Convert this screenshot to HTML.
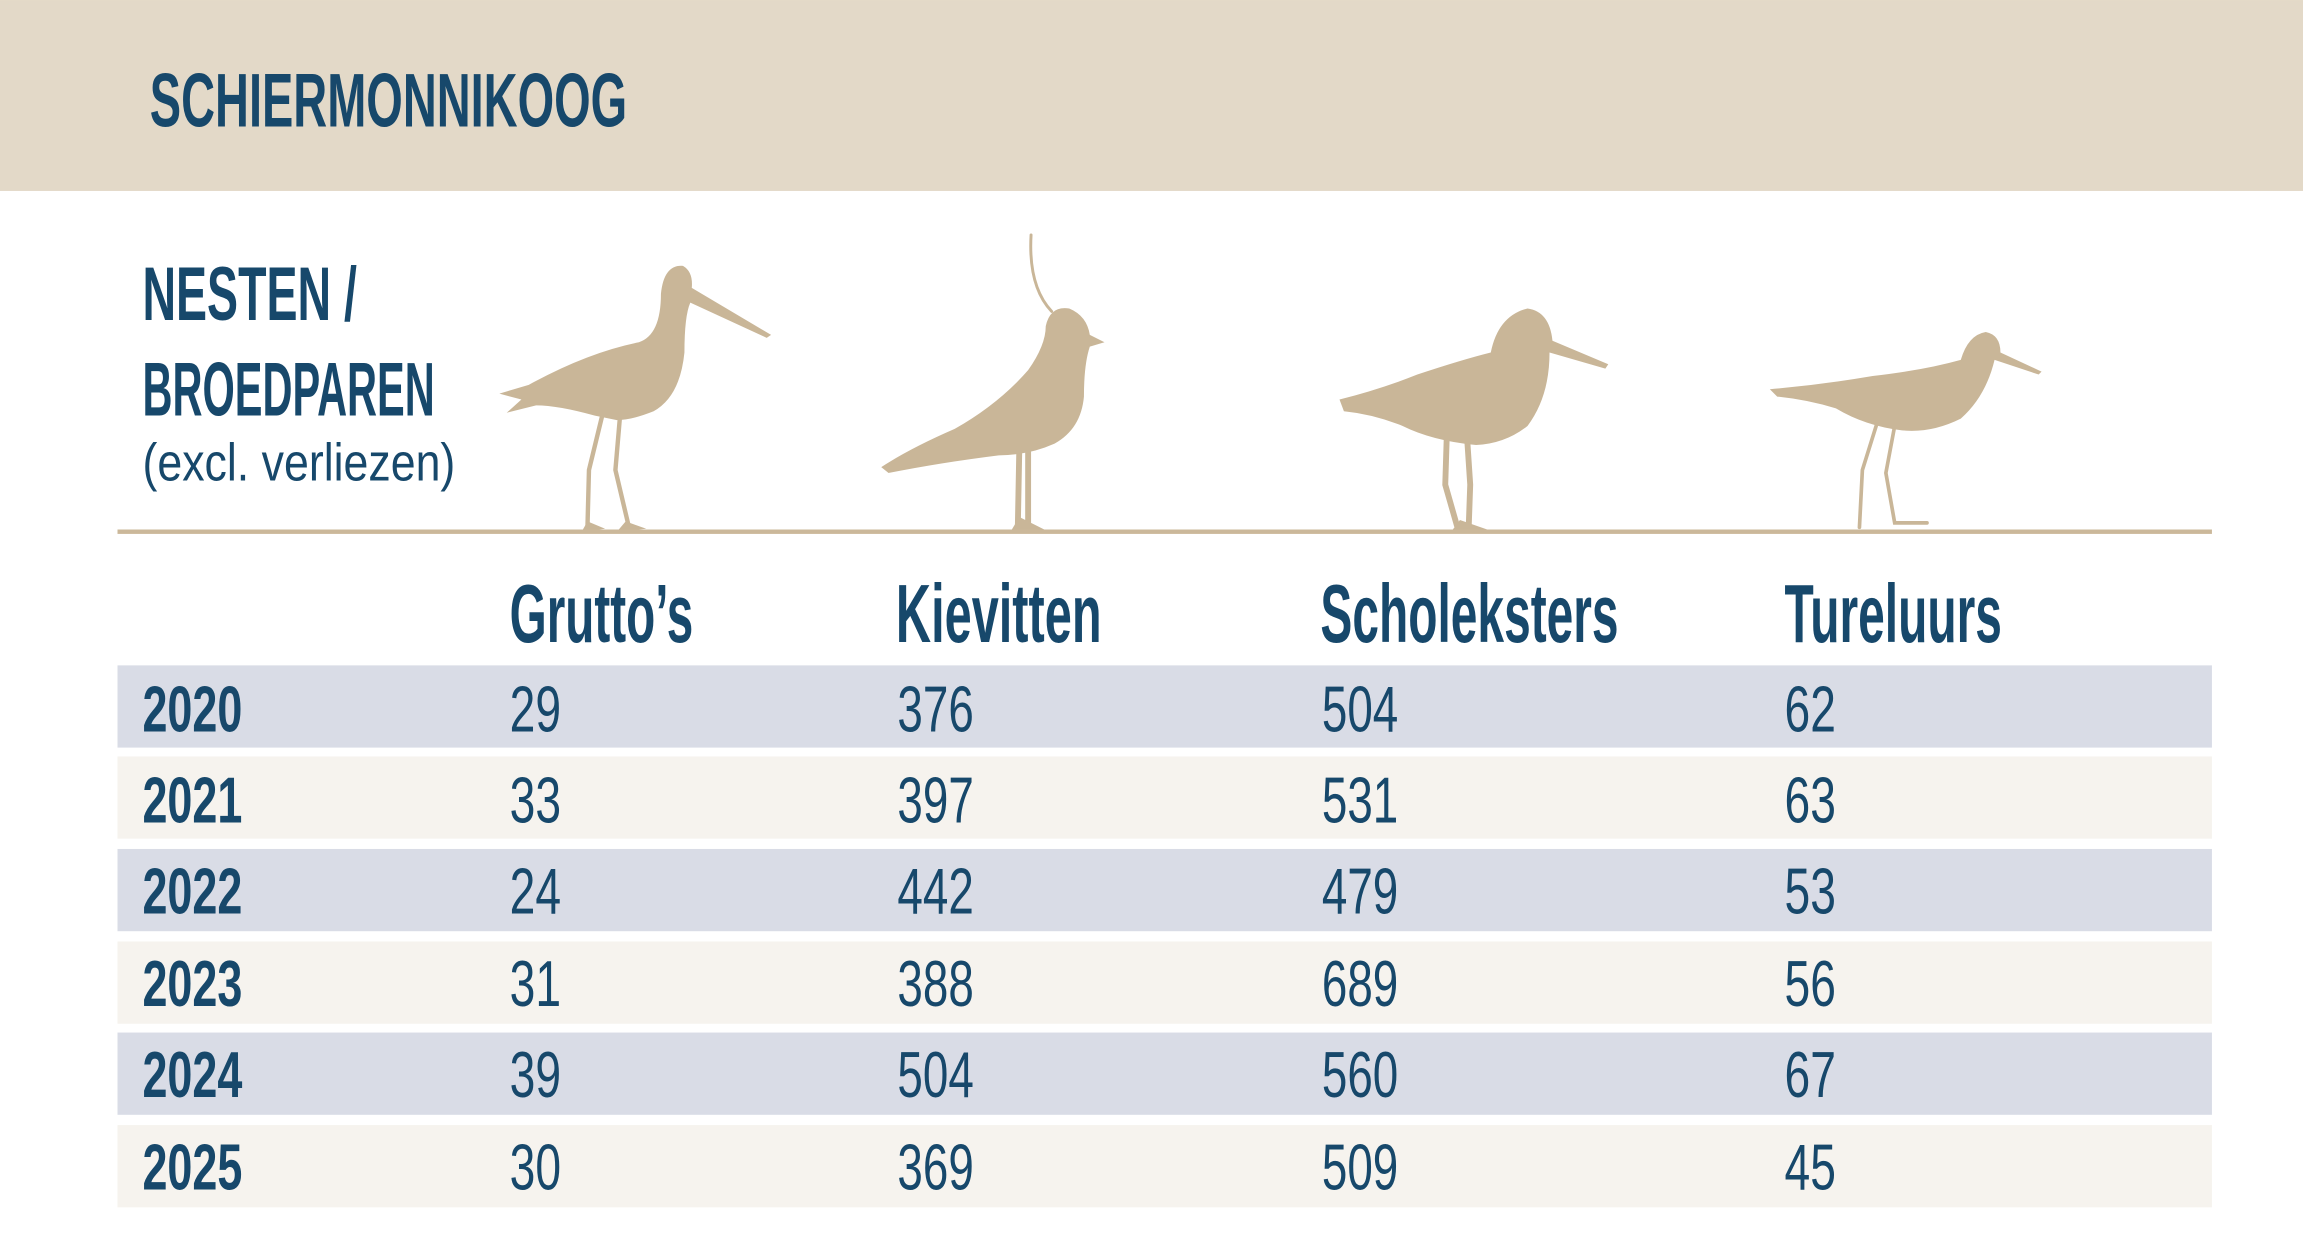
<!DOCTYPE html>
<html><head><meta charset="utf-8"><style>
html,body{margin:0;padding:0;background:#fff;}
svg{display:block;}
text{font-family:"Liberation Sans",sans-serif;fill:#17486b;}
.b{font-weight:bold;}
</style></head><body>
<svg width="2303" height="1252" viewBox="0 0 1568 852.4" xmlns="http://www.w3.org/2000/svg">
<rect x="0" y="0" width="1568" height="130" fill="#e3d9c8"/>
<text class="b" x="102" y="86" font-size="52" textLength="325" lengthAdjust="spacingAndGlyphs">SCHIERMONNIKOOG</text>
<text class="b" x="97" y="218" font-size="52" textLength="146" lengthAdjust="spacingAndGlyphs">NESTEN /</text>
<text class="b" x="97" y="283" font-size="52" textLength="199" lengthAdjust="spacingAndGlyphs">BROEDPAREN</text>
<text x="97" y="327" font-size="36" textLength="213" lengthAdjust="spacingAndGlyphs">(excl. verliezen)</text>
<g fill="#c9b698" stroke="#c9b698" stroke-linecap="round">
<path stroke="none" d="M340 268 L360 262 Q400 240 435 233 Q450 228 450 200 Q452 180 465 181 Q472 185 471 196 L525 228 L522 230 L470 206 Q466 215 466 240 Q463 270 445 280 Q430 286 420 286 L405 283 Q380 276 365 276 L345 281 L355 272 Z"/>
<path fill="none" stroke-width="3" d="M410 283 L401 320 L400 358 M422 285 L419 320 L428 358"/>
<path stroke="none" d="M396 362 L400 355 L412 360 Z M420 362 L426 355 L440 360 Z"/>
<path stroke="none" d="M600 318 Q620 305 650 292 Q680 275 700 252 Q712 235 712 222 Q715 208 728 210 Q740 215 742 228 L752 233 L742 236 Q738 248 738 270 Q736 292 718 302 Q700 310 680 310 Q640 315 605 322 Z"/>
<path fill="none" stroke-width="2" d="M716 212 Q700 195 702 160"/>
<path fill="none" stroke-width="4" d="M694 305 L693 358 M700 305 L700 358"/>
<path stroke="none" d="M688 362 L694 352 L712 361 Z"/>
<path stroke="none" d="M912 272 Q940 265 965 255 Q995 245 1015 240 Q1020 215 1040 210 Q1055 212 1057 232 L1095 248 L1093 251 L1055 240 Q1055 270 1040 290 Q1025 302 1005 303 Q975 300 955 290 Q935 282 915 280 Z"/>
<path fill="none" stroke-width="4" d="M985 298 L984 330 L992 358 M999 300 L1001 330 L1000 358"/>
<path stroke="none" d="M988 362 L994 354 L1014 361 Z"/>
<path stroke="none" d="M1205 265 Q1240 262 1275 256 Q1310 252 1335 245 Q1340 228 1352 226 Q1362 228 1362 240 L1390 253 L1388 255 L1358 245 Q1352 270 1335 285 Q1315 295 1295 293 Q1270 290 1250 278 Q1230 272 1210 270 Z"/>
<path fill="none" stroke-width="2.5" d="M1278 288 L1268 320 L1266 359 M1290 290 L1284 322 L1290 356 L1312 356"/>
</g>
<rect x="80" y="360.5" width="1426" height="3" fill="#cbb89a"/>
<text class="b" x="347" y="437" font-size="56" textLength="125" lengthAdjust="spacingAndGlyphs">Grutto’s</text>
<text class="b" x="610" y="437" font-size="56" textLength="140" lengthAdjust="spacingAndGlyphs">Kievitten</text>
<text class="b" x="899" y="437" font-size="56" textLength="203" lengthAdjust="spacingAndGlyphs">Scholeksters</text>
<text class="b" x="1215" y="437" font-size="56" textLength="148" lengthAdjust="spacingAndGlyphs">Tureluurs</text>
<rect x="80" y="453" width="1426" height="56" fill="#d9dce6"/>
<rect x="80" y="515" width="1426" height="56" fill="#f6f3ee"/>
<rect x="80" y="578" width="1426" height="56" fill="#d9dce6"/>
<rect x="80" y="641" width="1426" height="56" fill="#f6f3ee"/>
<rect x="80" y="703" width="1426" height="56" fill="#d9dce6"/>
<rect x="80" y="766" width="1426" height="56" fill="#f6f3ee"/>
<g font-size="44">
<g class="b">
<text class="b" x="97" y="498" textLength="68" lengthAdjust="spacingAndGlyphs">2020</text>
<text class="b" x="97" y="560" textLength="68" lengthAdjust="spacingAndGlyphs">2021</text>
<text class="b" x="97" y="622" textLength="68" lengthAdjust="spacingAndGlyphs">2022</text>
<text class="b" x="97" y="685" textLength="68" lengthAdjust="spacingAndGlyphs">2023</text>
<text class="b" x="97" y="747" textLength="68" lengthAdjust="spacingAndGlyphs">2024</text>
<text class="b" x="97" y="810" textLength="68" lengthAdjust="spacingAndGlyphs">2025</text>
</g>
<text x="347" y="498" textLength="35" lengthAdjust="spacingAndGlyphs">29</text>
<text x="611" y="498" textLength="52" lengthAdjust="spacingAndGlyphs">376</text>
<text x="900" y="498" textLength="52" lengthAdjust="spacingAndGlyphs">504</text>
<text x="1215" y="498" textLength="35" lengthAdjust="spacingAndGlyphs">62</text>
<text x="347" y="560" textLength="35" lengthAdjust="spacingAndGlyphs">33</text>
<text x="611" y="560" textLength="52" lengthAdjust="spacingAndGlyphs">397</text>
<text x="900" y="560" textLength="52" lengthAdjust="spacingAndGlyphs">531</text>
<text x="1215" y="560" textLength="35" lengthAdjust="spacingAndGlyphs">63</text>
<text x="347" y="622" textLength="35" lengthAdjust="spacingAndGlyphs">24</text>
<text x="611" y="622" textLength="52" lengthAdjust="spacingAndGlyphs">442</text>
<text x="900" y="622" textLength="52" lengthAdjust="spacingAndGlyphs">479</text>
<text x="1215" y="622" textLength="35" lengthAdjust="spacingAndGlyphs">53</text>
<text x="347" y="685" textLength="35" lengthAdjust="spacingAndGlyphs">31</text>
<text x="611" y="685" textLength="52" lengthAdjust="spacingAndGlyphs">388</text>
<text x="900" y="685" textLength="52" lengthAdjust="spacingAndGlyphs">689</text>
<text x="1215" y="685" textLength="35" lengthAdjust="spacingAndGlyphs">56</text>
<text x="347" y="747" textLength="35" lengthAdjust="spacingAndGlyphs">39</text>
<text x="611" y="747" textLength="52" lengthAdjust="spacingAndGlyphs">504</text>
<text x="900" y="747" textLength="52" lengthAdjust="spacingAndGlyphs">560</text>
<text x="1215" y="747" textLength="35" lengthAdjust="spacingAndGlyphs">67</text>
<text x="347" y="810" textLength="35" lengthAdjust="spacingAndGlyphs">30</text>
<text x="611" y="810" textLength="52" lengthAdjust="spacingAndGlyphs">369</text>
<text x="900" y="810" textLength="52" lengthAdjust="spacingAndGlyphs">509</text>
<text x="1215" y="810" textLength="35" lengthAdjust="spacingAndGlyphs">45</text>
</g>
</svg>
</body></html>
